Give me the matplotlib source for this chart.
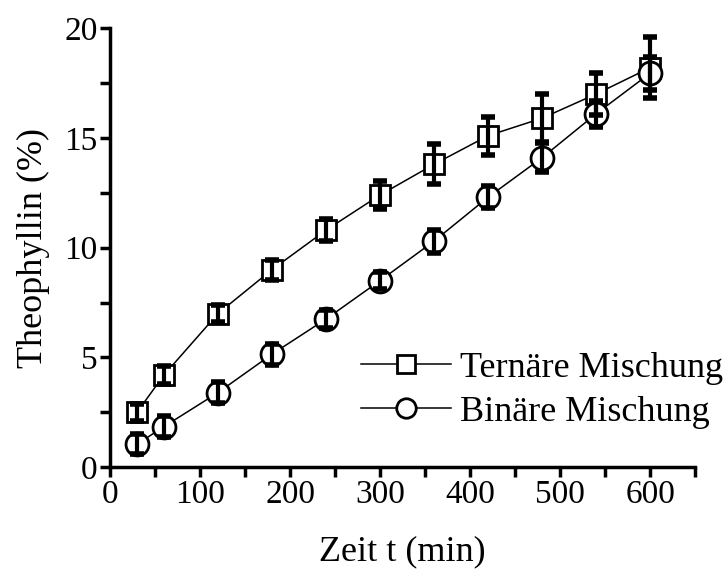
import matplotlib.pyplot as plt
from matplotlib.ticker import MultipleLocator

# Freisetzung von Theophyllin ueber die Zeit
zeit = [30, 60, 120, 180, 240, 300, 360, 420, 480, 540, 600]

ternaer = [2.5, 4.2, 7.0, 9.0, 10.8, 12.4, 13.8, 15.1, 15.9, 17.0, 18.2]
ternaer_err = [0.4, 0.4, 0.4, 0.45, 0.5, 0.65, 0.9, 0.87, 1.1, 0.95, 1.4]

binaer = [1.05, 1.85, 3.4, 5.15, 6.75, 8.5, 10.3, 12.3, 14.1, 16.1, 17.95]
binaer_err = [0.45, 0.47, 0.48, 0.48, 0.43, 0.4, 0.52, 0.5, 0.65, 0.6, 0.75]

plt.rcParams['font.family'] = ['Liberation Serif', 'DejaVu Serif']

fig = plt.figure(figsize=(7.28, 5.74), dpi=100)
ax = fig.add_axes([0.151, 0.186, 0.804, 0.765])

# Linien mit Markern
ax.plot(zeit, ternaer, color='black', lw=1.1, marker='s', ms=14.5,
        mfc='white', mec='black', mew=2, zorder=2,
        label='Ternäre Mischung')
ax.plot(zeit, binaer, color='black', lw=1.1, marker='o', ms=16.5,
        mfc='white', mec='black', mew=2, zorder=2,
        label='Binäre Mischung')

# Fehlerbalken ueber den Markern
ax.errorbar(zeit, ternaer, yerr=ternaer_err, fmt='none', ecolor='black',
            elinewidth=3, capsize=5, capthick=4, zorder=3)
ax.errorbar(zeit, binaer, yerr=binaer_err, fmt='none', ecolor='black',
            elinewidth=3, capsize=5, capthick=4, zorder=3)

ax.set_xlim(0, 650)
ax.set_ylim(0, 20)
ax.xaxis.set_major_locator(MultipleLocator(100))
ax.xaxis.set_minor_locator(MultipleLocator(50))
ax.yaxis.set_major_locator(MultipleLocator(5))
ax.yaxis.set_minor_locator(MultipleLocator(2.5))

for side in ['top', 'right']:
    ax.spines[side].set_visible(False)
for side in ['left', 'bottom']:
    ax.spines[side].set_linewidth(2.5)

ax.tick_params(which='both', direction='out', width=2.5, labelsize=24)
ax.tick_params(which='major', length=7, pad=2)
ax.tick_params(which='minor', length=7)

ax.set_xlabel('Zeit t (min)', fontsize=26, labelpad=18)
ax.set_ylabel('Theophyllin (%)', fontsize=26, labelpad=10)

leg = ax.legend(loc='lower right', bbox_to_anchor=(1.073, 0.055), frameon=False,
                fontsize=26, handlelength=2.5, handletextpad=0.25,
                labelspacing=0.3, markerscale=0.85, borderaxespad=0)

fig.savefig('out.png', dpi=100)
